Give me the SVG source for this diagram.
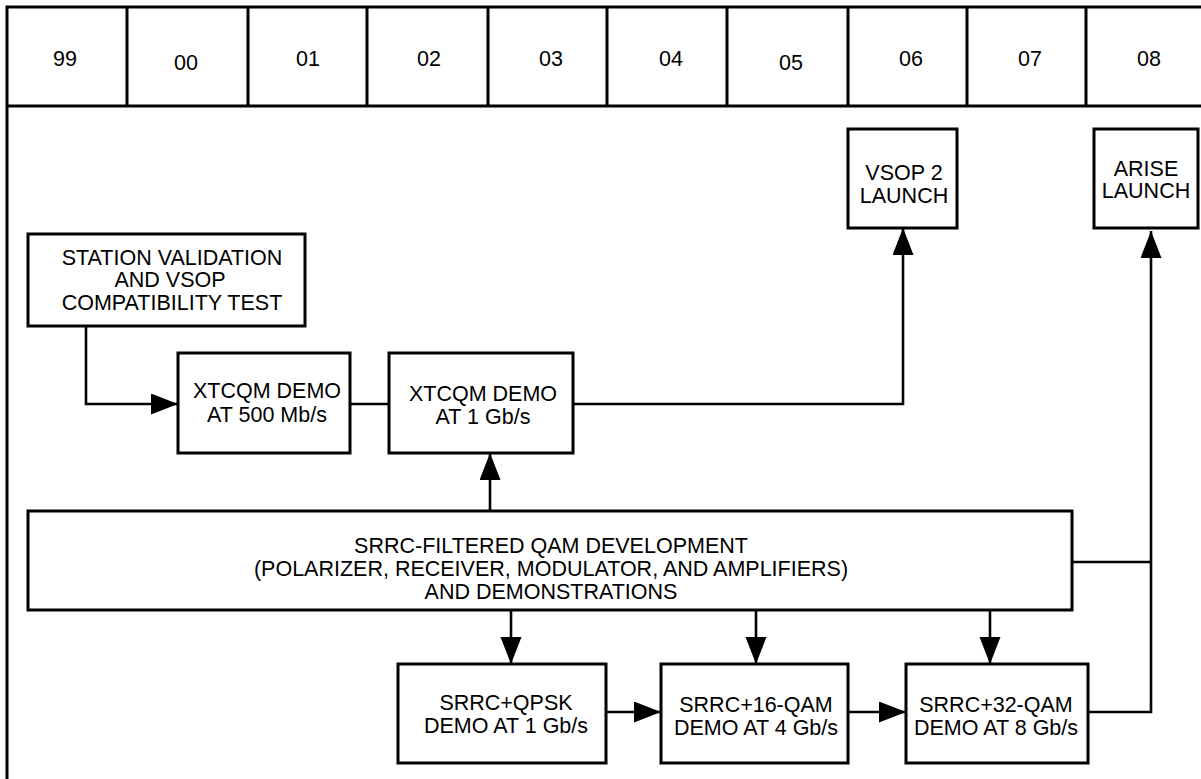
<svg xmlns="http://www.w3.org/2000/svg" width="1201" height="779" viewBox="0 0 1201 779">
<style>
.frame{fill:none;stroke:#000;stroke-width:3}
.box{fill:#fff;stroke:#000;stroke-width:3}
.con{fill:none;stroke:#000;stroke-width:2.6}
text{font-family:"Liberation Sans",Arial,sans-serif;font-size:21.5px;fill:#000;text-anchor:middle}
</style>
<defs>
<marker id="arr" markerUnits="userSpaceOnUse" markerWidth="28" markerHeight="22" refX="27" refY="10.5" orient="auto">
<path d="M0,0 L27,10.5 L0,21 z" fill="#000"/>
</marker>
</defs>
<rect width="1201" height="779" fill="#fff"/>
<g id="timeline">
<path class="frame" d="M1201,7 H7 V779 M7,106 H1201 M127,7 V106 M248,7 V106 M367,7 V106 M488,7 V106 M607,7 V106 M727,7 V106 M848,7 V106 M967,7 V106 M1086,7 V106"/>
<text x="65" y="65.5">99</text>
<text x="186" y="69.5">00</text>
<text x="308" y="65.5">01</text>
<text x="429" y="65.5">02</text>
<text x="551" y="65.5">03</text>
<text x="671" y="65.5">04</text>
<text x="791" y="69.5">05</text>
<text x="911" y="65.5">06</text>
<text x="1030" y="65.5">07</text>
<text x="1149" y="65.5">08</text>
</g>
<g id="connectors">
<path class="con" d="M86,326 V404 H178" marker-end="url(#arr)"/>
<path class="con" d="M350,404 H389"/>
<path class="con" d="M573,404 H903 V228" marker-end="url(#arr)"/>
<path class="con" d="M490,511 V453" marker-end="url(#arr)"/>
<path class="con" d="M511,610 V664" marker-end="url(#arr)"/>
<path class="con" d="M756,610 V664" marker-end="url(#arr)"/>
<path class="con" d="M990,610 V664" marker-end="url(#arr)"/>
<path class="con" d="M606,712 H661" marker-end="url(#arr)"/>
<path class="con" d="M848,712 H906" marker-end="url(#arr)"/>
<path class="con" d="M1088,712 H1151 V231" marker-end="url(#arr)"/>
<path class="con" d="M1072,562 H1151"/>
</g>
<g id="station">
<rect class="box" x="28" y="234" width="277" height="92"/>
<text x="172" y="264.5">STATION VALIDATION</text>
<text x="170" y="287">AND VSOP</text>
<text x="172" y="309.5">COMPATIBILITY TEST</text>
</g>
<g id="xtcqm500">
<rect class="box" x="178" y="353" width="172" height="100"/>
<text x="267" y="397.5">XTCQM DEMO</text>
<text x="267" y="421.5">AT 500 Mb/s</text>
</g>
<g id="xtcqm1g">
<rect class="box" x="389" y="353" width="184" height="100"/>
<text x="483" y="400.5">XTCQM DEMO</text>
<text x="483" y="424">AT 1 Gb/s</text>
</g>
<g id="vsop2">
<rect class="box" x="848" y="129" width="109" height="99"/>
<text x="904" y="179.5">VSOP 2</text>
<text x="904" y="202.5">LAUNCH</text>
</g>
<g id="arise">
<rect class="box" x="1094" y="129" width="104" height="99"/>
<text x="1146" y="175.5">ARISE</text>
<text x="1146" y="198">LAUNCH</text>
</g>
<g id="srrc-dev">
<rect class="box" x="28" y="511" width="1044" height="99"/>
<text x="551" y="552.5">SRRC-FILTERED QAM DEVELOPMENT</text>
<text x="551" y="575.5">(POLARIZER, RECEIVER, MODULATOR, AND AMPLIFIERS)</text>
<text x="551" y="598.5">AND DEMONSTRATIONS</text>
</g>
<g id="qpsk">
<rect class="box" x="398" y="664" width="208" height="99"/>
<text x="506" y="709.5">SRRC+QPSK</text>
<text x="506" y="733">DEMO AT 1 Gb/s</text>
</g>
<g id="qam16">
<rect class="box" x="661" y="664" width="187" height="99"/>
<text x="756" y="711.5">SRRC+16-QAM</text>
<text x="756" y="734.5">DEMO AT 4 Gb/s</text>
</g>
<g id="qam32">
<rect class="box" x="906" y="664" width="182" height="99"/>
<text x="996" y="711.5">SRRC+32-QAM</text>
<text x="996" y="734.5">DEMO AT 8 Gb/s</text>
</g>
</svg>
